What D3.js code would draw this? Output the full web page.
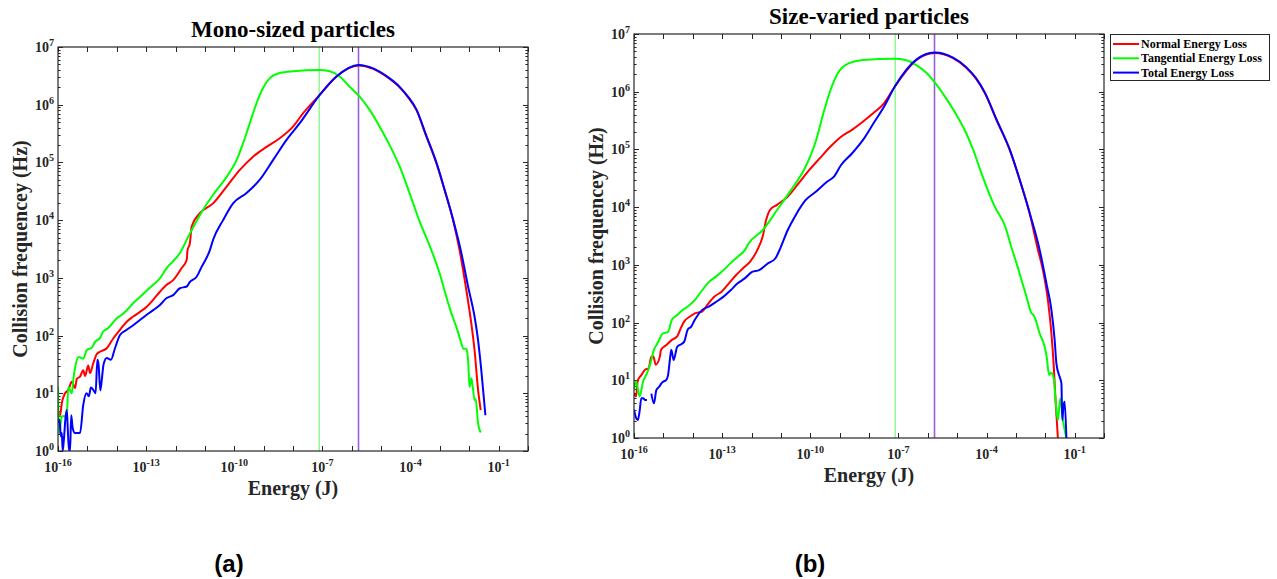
<!DOCTYPE html>
<html><head><meta charset="utf-8">
<script src="https://cdn.jsdelivr.net/npm/d3@7"></script>
<style>body{margin:0;background:#fff;} svg{display:block;}</style>
</head><body><svg id="c" width="1277" height="579"></svg>
<script>
// ---- Data: each point is [log10 Energy (J), log10 Collision frequency (Hz)]; null = no data ----
const seriesNames = ["Normal Energy Loss", "Tangential Energy Loss", "Total Energy Loss"];
const seriesColors = ["#ff0000", "#00ff00", "#0000ff"];

const monoNormal = [[-16.0,0.68],[-15.93,0.62],[-15.87,0.83],[-15.76,1.0],[-15.65,1.06],[-15.53,1.20],[-15.42,1.09],[-15.36,1.25],[-15.25,1.29],[-15.14,1.40],[-15.08,1.30],[-14.97,1.48],[-14.91,1.35],[-14.80,1.52],[-14.68,1.68],[-14.57,1.72],[-14.34,1.78],[-14.12,1.95],[-13.89,2.10],[-13.66,2.24],[-13.44,2.33],[-13.21,2.41],[-12.98,2.50],[-12.76,2.62],[-12.53,2.76],[-12.30,2.88],[-12.08,2.96],[-11.79,3.17],[-11.62,3.31],[-11.59,3.48],[-11.51,3.60],[-11.45,3.89],[-11.17,4.12],[-10.72,4.29],[-10.26,4.58],[-9.81,4.87],[-9.36,5.10],[-8.90,5.27],[-8.45,5.42],[-8.0,5.62],[-7.66,5.85],[-7.09,6.17],[-6.52,6.49],[-5.77,6.68],[-5.27,6.62],[-4.80,6.48],[-4.37,6.30],[-4.10,6.14],[-3.80,5.91],[-3.46,5.45],[-3.12,4.99],[-2.84,4.52],[-2.55,4.0],[-2.33,3.48],[-2.10,2.79],[-1.93,2.21],[-1.82,1.75],[-1.70,1.06],[-1.61,0.71]];
const monoTangential = [[-16.0,1.11],[-15.96,0.31],[-15.87,0.60],[-15.70,0.60],[-15.65,1.11],[-15.53,1.0],[-15.48,1.23],[-15.42,1.44],[-15.29,1.63],[-15.14,1.60],[-15.02,1.75],[-14.85,1.79],[-14.74,1.89],[-14.57,1.96],[-14.46,2.07],[-14.29,2.13],[-14.0,2.30],[-13.83,2.36],[-13.66,2.44],[-13.44,2.56],[-13.21,2.67],[-13.02,2.76],[-12.76,2.88],[-12.53,2.99],[-12.30,3.17],[-12.08,3.29],[-11.85,3.43],[-11.57,3.71],[-11.06,4.18],[-10.72,4.44],[-10.26,4.75],[-9.92,5.04],[-9.70,5.33],[-9.47,5.68],[-9.24,6.03],[-9.02,6.29],[-8.79,6.46],[-8.45,6.55],[-8.0,6.58],[-7.09,6.60],[-6.75,6.58],[-6.41,6.49],[-6.07,6.31],[-5.73,6.14],[-5.39,5.91],[-5.05,5.62],[-4.71,5.30],[-4.37,4.93],[-3.91,4.29],[-3.69,3.98],[-3.29,3.48],[-3.01,3.08],[-2.78,2.67],[-2.61,2.39],[-2.44,2.15],[-2.27,1.87],[-2.20,1.77],[-2.10,1.77],[-2.04,1.58],[-1.99,1.11],[-1.93,1.26],[-1.88,1.11],[-1.82,0.88],[-1.78,0.90],[-1.70,0.48],[-1.61,0.32]];
const monoTotal = [[-16.0,0.49],[-15.95,0.54],[-15.90,0.25],[-15.87,0.31],[-15.84,0.0],[-15.80,0.20],[-15.74,0.60],[-15.70,0.71],[-15.66,0.30],[-15.62,0.0],[-15.59,0.0],[-15.55,0.62],[-15.50,0.40],[-15.42,0.31],[-15.25,0.31],[-15.14,0.80],[-15.03,1.0],[-14.95,0.95],[-14.88,1.10],[-14.80,1.06],[-14.72,1.00],[-14.66,1.58],[-14.62,1.50],[-14.56,1.05],[-14.51,1.23],[-14.45,1.50],[-14.34,1.61],[-14.20,1.58],[-14.06,1.78],[-13.89,2.01],[-13.66,2.10],[-13.44,2.18],[-13.21,2.27],[-12.98,2.36],[-12.76,2.44],[-12.53,2.53],[-12.30,2.65],[-12.08,2.70],[-11.85,2.82],[-11.62,2.85],[-11.51,2.93],[-11.28,3.02],[-11.11,3.19],[-10.83,3.48],[-10.72,3.66],[-10.38,4.0],[-10.04,4.29],[-9.58,4.47],[-9.13,4.70],[-8.68,5.04],[-8.22,5.39],[-7.77,5.68],[-7.09,6.17],[-6.52,6.49],[-5.77,6.69],[-5.27,6.63],[-4.80,6.49],[-4.37,6.31],[-4.10,6.15],[-3.80,5.92],[-3.46,5.46],[-3.12,5.0],[-2.84,4.53],[-2.55,4.01],[-2.29,3.48],[-2.04,2.85],[-1.82,2.33],[-1.70,1.92],[-1.59,1.40],[-1.45,0.62]];

const sizeNormal = [[-16.0,0.77],[-15.93,0.72],[-15.87,1.0],[-15.75,1.09],[-15.63,1.18],[-15.50,1.21],[-15.41,1.41],[-15.34,1.41],[-15.26,1.27],[-15.12,1.41],[-15.08,1.53],[-14.90,1.61],[-14.71,1.70],[-14.53,1.76],[-14.41,1.90],[-14.29,2.02],[-14.11,2.10],[-13.93,2.16],[-13.68,2.19],[-13.50,2.31],[-13.26,2.45],[-13.01,2.54],[-12.77,2.68],[-12.53,2.82],[-12.29,2.94],[-12.04,3.06],[-11.80,3.26],[-11.62,3.49],[-11.50,3.78],[-11.37,3.95],[-11.13,4.04],[-10.77,4.18],[-10.40,4.41],[-10.04,4.64],[-9.67,4.85],[-9.31,5.05],[-8.95,5.22],[-8.58,5.34],[-8.21,5.48],[-7.85,5.63],[-7.49,5.80],[-7.12,6.09],[-6.38,6.55],[-5.77,6.67],[-5.14,6.58],[-4.70,6.42],[-4.35,6.22],[-4.05,5.97],[-3.66,5.51],[-3.21,4.99],[-2.87,4.47],[-2.53,3.89],[-2.25,3.26],[-2.08,2.91],[-1.91,2.39],[-1.79,1.81],[-1.71,1.24],[-1.65,0.66],[-1.57,0.0]];
const sizeTangential = [[-16.0,0.83],[-15.93,0.98],[-15.81,0.72],[-15.69,0.98],[-15.56,1.12],[-15.44,1.29],[-15.32,1.53],[-15.20,1.64],[-15.02,1.81],[-14.84,1.84],[-14.71,2.05],[-14.53,2.13],[-14.41,2.19],[-14.17,2.28],[-13.93,2.39],[-13.68,2.56],[-13.44,2.71],[-13.20,2.80],[-12.95,2.91],[-12.71,3.03],[-12.47,3.14],[-12.22,3.26],[-12.10,3.37],[-11.62,3.60],[-11.13,3.95],[-10.65,4.30],[-10.16,4.70],[-9.80,5.16],[-9.55,5.63],[-9.31,6.03],[-9.06,6.32],[-8.70,6.49],[-8.21,6.55],[-7.12,6.57],[-6.76,6.55],[-6.39,6.46],[-6.03,6.32],[-5.79,6.18],[-5.42,5.92],[-5.06,5.63],[-4.69,5.28],[-4.45,4.99],[-4.21,4.64],[-3.96,4.30],[-3.72,4.01],[-3.36,3.66],[-3.15,3.30],[-2.98,3.03],[-2.81,2.74],[-2.64,2.45],[-2.47,2.16],[-2.40,2.13],[-2.33,2.05],[-2.19,1.81],[-2.02,1.58],[-1.95,1.40],[-1.87,1.09],[-1.80,1.13],[-1.71,1.03],[-1.65,0.66],[-1.57,0.31],[-1.52,0.55],[-1.48,0.69],[-1.42,0.40],[-1.34,0.14],[-1.28,0.0]];
const sizeTotal = [[-16.0,0.49],[-15.93,0.35],[-15.87,0.31],[-15.81,0.46],[-15.75,0.69],[-15.69,0.69],[-15.62,0.66],[-15.56,0.66],null,[-15.41,0.77],[-15.32,0.60],[-15.24,0.83],[-15.14,0.89],[-15.06,0.95],[-14.99,0.98],[-14.91,1.0],[-14.84,1.09],[-14.78,1.35],[-14.73,1.53],[-14.65,1.35],[-14.53,1.58],[-14.41,1.62],[-14.29,1.67],[-14.17,1.88],[-14.05,1.93],[-13.93,2.05],[-13.68,2.22],[-13.44,2.28],[-13.20,2.36],[-12.95,2.45],[-12.71,2.56],[-12.47,2.68],[-12.22,2.77],[-11.98,2.88],[-11.74,2.91],[-11.43,3.03],[-11.19,3.11],[-11.01,3.30],[-10.77,3.60],[-10.52,3.84],[-10.16,4.12],[-9.80,4.27],[-9.43,4.44],[-9.19,4.53],[-8.95,4.73],[-8.58,4.93],[-8.21,5.16],[-7.85,5.45],[-7.49,5.74],[-7.12,6.09],[-6.38,6.56],[-5.77,6.68],[-5.14,6.59],[-4.70,6.43],[-4.35,6.23],[-4.05,5.98],[-3.66,5.52],[-3.21,5.0],[-2.87,4.48],[-2.53,3.90],[-2.19,3.26],[-1.96,2.68],[-1.79,2.22],[-1.68,1.70],[-1.62,1.29],[-1.51,1.06],[-1.45,0.95],[-1.42,0.31],[-1.38,0.55],[-1.34,0.63],[-1.28,0.0]];

// vertical reference lines (log10 energy)
const refLineExps = [-7.11, -5.77];
const refLineColors = ["#33ee33", "#9a62cf"];
const refLineWidths = [0.8, 1.6];

const xDomainExp = [-16, 0];
const yDomainExp = [0, 7];
const xLabelExps = [-16, -13, -10, -7, -4, -1];
const xTickExps = d3.range(-16, 1);
const yTickExps = d3.range(0, 8);

const panelTitles = ["Mono-sized particles", "Size-varied particles"];
const panelTags = ["(a)", "(b)"];
const xAxisTitle = "Energy (J)";
const yAxisTitle = "Collision frequencey (Hz)";

// ---- Drawing ----
const svg = d3.select("#c");
const AX = "#262626";
const SERIF = "'Liberation Serif','Times New Roman',serif";

const panels = [
  {box: {l: 58, t: 47, r: 528, b: 451}, data: [monoNormal, monoTangential, monoTotal], title: panelTitles[0], tag: panelTags[0], tagX: 229, legend: false},
  {box: {l: 634, t: 34, r: 1104, b: 438}, data: [sizeNormal, sizeTangential, sizeTotal], title: panelTitles[1], tag: panelTags[1], tagX: 810, legend: true}
];

function supLabel(sel, exp, sz) {
  sel.append("tspan").text("10");
  sel.append("tspan").attr("dy", -6).attr("font-size", sz * 0.72).text(String(exp));
}

panels.forEach((p, pi) => {
  const {l, t, r, b} = p.box;
  const x = d3.scaleLog().domain(xDomainExp.map(e => Math.pow(10, e))).range([l, r]);
  const y = d3.scaleLog().domain(yDomainExp.map(e => Math.pow(10, e))).range([b, t]);
  const g = svg.append("g");

  const clipId = "clip" + pi;
  g.append("clipPath").attr("id", clipId).append("rect").attr("x", l).attr("y", t).attr("width", r - l).attr("height", b - t);

  // axis ticks (inward) on all 4 sides
  const tk = g.append("g").attr("stroke", AX).attr("stroke-width", 1);
  xTickExps.forEach(e => {
    const xx = Math.round(x(Math.pow(10, e))) + 0.5;
    tk.append("line").attr("x1", xx).attr("x2", xx).attr("y1", b).attr("y2", b - 5);
    tk.append("line").attr("x1", xx).attr("x2", xx).attr("y1", t).attr("y2", t + 5);
  });
  yTickExps.forEach(e => {
    for (let m = 1; m <= 9; m++) {
      const v = m * Math.pow(10, e);
      if (v > Math.pow(10, yDomainExp[1])) continue;
      const yy = Math.round(y(v)) + 0.5;
      const len = m === 1 ? 5 : 2.6;
      tk.append("line").attr("x1", l).attr("x2", l + len).attr("y1", yy).attr("y2", yy);
      tk.append("line").attr("x1", r).attr("x2", r - len).attr("y1", yy).attr("y2", yy);
    }
  });

  // reference lines
  refLineExps.forEach((e, i) => {
    const xx = x(Math.pow(10, e));
    g.append("line").attr("x1", xx).attr("x2", xx).attr("y1", t).attr("y2", b)
      .attr("stroke", refLineColors[i]).attr("stroke-width", refLineWidths[i]);
  });

  // series
  const line = d3.line()
    .defined(d => d !== null)
    .curve(d3.curveMonotoneX)
    .x(d => x(Math.pow(10, d[0])))
    .y(d => y(Math.pow(10, d[1])));
  p.data.forEach((s, i) => {
    g.append("path").attr("d", line(s)).attr("fill", "none")
      .attr("stroke", seriesColors[i]).attr("stroke-width", 2)
      .attr("stroke-linejoin", "round").attr("clip-path", `url(#${clipId})`);
  });

  // box
  g.append("rect").attr("x", l).attr("y", t).attr("width", r - l).attr("height", b - t)
    .attr("fill", "none").attr("stroke", AX).attr("stroke-width", 1.2);

  // tick labels
  const fs = 14;
  xLabelExps.forEach(e => {
    const tx = g.append("text").attr("x", x(Math.pow(10, e))).attr("y", b + 21)
      .attr("text-anchor", "middle").attr("font-family", SERIF).attr("font-weight", "bold")
      .attr("font-size", fs).attr("fill", AX);
    supLabel(tx, e, fs);
  });
  yTickExps.forEach(e => {
    const tx = g.append("text").attr("x", l - 4).attr("y", y(Math.pow(10, e)) + 5)
      .attr("text-anchor", "end").attr("font-family", SERIF).attr("font-weight", "bold")
      .attr("font-size", fs).attr("fill", AX);
    supLabel(tx, e, fs);
  });

  // axis titles
  g.append("text").attr("x", (l + r) / 2).attr("y", b + 44).attr("text-anchor", "middle")
    .attr("font-family", SERIF).attr("font-weight", "bold").attr("font-size", 20).attr("fill", AX)
    .text(xAxisTitle);
  g.append("text").attr("transform", `translate(${l - 31},${(t + b) / 2}) rotate(-90)`)
    .attr("text-anchor", "middle").attr("font-family", SERIF).attr("font-weight", "bold")
    .attr("font-size", 20).attr("fill", AX).text(yAxisTitle);
  // panel title
  g.append("text").attr("x", (l + r) / 2).attr("y", t - 10).attr("text-anchor", "middle")
    .attr("font-family", SERIF).attr("font-weight", "bold").attr("font-size", 23).attr("fill", "#000")
    .text(p.title);
  // tag
  g.append("text").attr("x", p.tagX).attr("y", 572).attr("text-anchor", "middle")
    .attr("font-family", "'Liberation Sans',Arial,sans-serif").attr("font-weight", "bold")
    .attr("font-size", 24).attr("fill", "#000").text(p.tag);

  if (p.legend) {
    const lg = g.append("g");
    lg.append("rect").attr("x", 1110.5).attr("y", 34.5).attr("width", 159).attr("height", 46)
      .attr("fill", "#fff").attr("stroke", AX).attr("stroke-width", 1);
    seriesNames.forEach((n, i) => {
      const yy = 44 + i * 14.3;
      lg.append("line").attr("x1", 1113).attr("x2", 1139).attr("y1", yy).attr("y2", yy)
        .attr("stroke", seriesColors[i]).attr("stroke-width", 2);
      lg.append("text").attr("x", 1141).attr("y", yy + 4).attr("font-family", SERIF)
        .attr("font-weight", "bold").attr("font-size", 12).attr("fill", "#000").text(n);
    });
  }
});
</script></body></html>
